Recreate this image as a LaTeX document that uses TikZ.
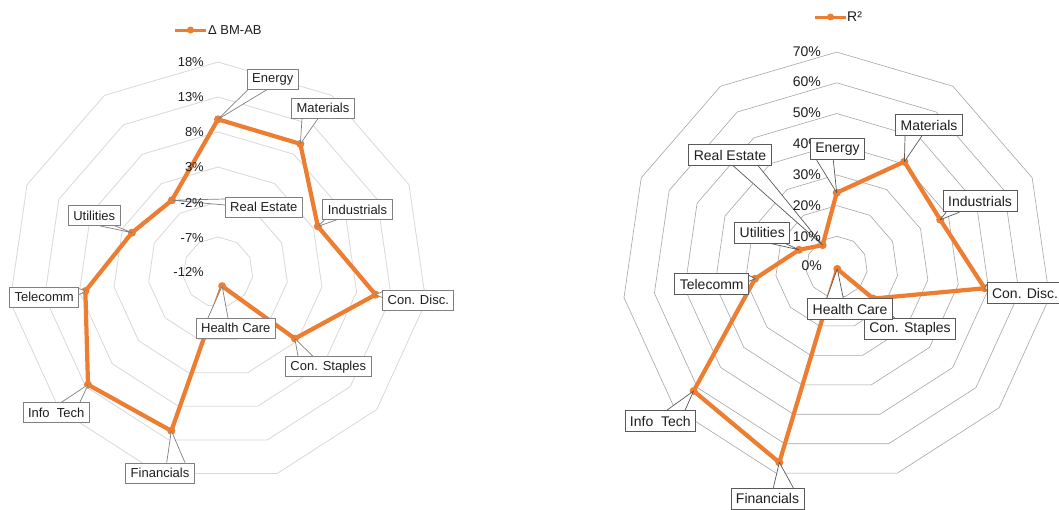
\documentclass[tikz,border=0pt]{standalone}
\usepackage{fontspec}
\setmainfont{Liberation Sans}
\usetikzlibrary{calc}
\pgfdeclarelayer{back}
\pgfdeclarelayer{bg}
\pgfdeclarelayer{mid}
\pgfsetlayers{back,bg,mid,main}
\definecolor{ser}{HTML}{ED7D31}
\definecolor{txt}{HTML}{1F1F1F}
\definecolor{ringl}{HTML}{D9D9D9}
\definecolor{ringr}{HTML}{A6A6A6}
\definecolor{boxl}{HTML}{808080}
\definecolor{boxr}{HTML}{595959}
\tikzset{
  ringL/.style={draw=ringl,line width=0.8pt,line join=round},
  ringR/.style={draw=ringr,line width=0.6pt,line join=round},
  series/.style={draw=ser,line width=4.2pt,line join=round},
  mk/.style={fill=ser},
  labL/.style={draw=boxl,fill=white,line width=0.8pt,text=txt,font=\fontsize{13}{15}\selectfont,minimum height=20pt,inner xsep=5pt,inner ysep=0pt},
  labR/.style={draw=boxr,fill=white,line width=0.8pt,text=txt,font=\fontsize{14}{16}\selectfont,minimum height=21pt,inner xsep=5pt,inner ysep=0pt},
  wedgeL/.style={draw=boxl,fill=white,line width=0.7pt,line join=round},
  wedgeR/.style={draw=boxr,fill=white,line width=0.7pt,line join=round},
  axL/.style={text=txt,font=\fontsize{13}{15}\selectfont,anchor=east,inner sep=0pt},
  axR/.style={text=txt,font=\fontsize{14}{16}\selectfont,anchor=east,inner sep=0pt},
  leg/.style={text=txt,anchor=west,inner sep=0pt},
}
\begin{document}
\begin{tikzpicture}[x=1pt,y=-1pt]
\useasboundingbox (0,0) rectangle (1059,509);
\begin{pgfonlayer}{back}
\fill[white] (0,0) rectangle (1059,509);
\end{pgfonlayer}
% ---------------- left chart ----------------
\coordinate (Lc) at (218,272);
\begin{pgfonlayer}{bg}
\foreach \r in {35,70,105,140,175,210}{
  \draw[ringL] ($(Lc)+(-90:\r)$) \foreach \k in {1,...,10}{ -- ($(Lc)+({-90+\k*360/11}:\r)$) } -- cycle;
}
\end{pgfonlayer}
\foreach \n/\k/\r in {LEn/0/152.7,LMa/1/152.3,LIn/2/109.8,LCD/3/159.2,LCS/4/101.7,LHC/5/14.7,LFi/6/165.6,LIT/7/172,LTe/8/134,LUt/9/94.6,LRE/10/85.3}{
  \coordinate (\n) at ($(Lc)+({-90+\k*360/11}:\r)$);
}
\begin{pgfonlayer}{bg}
\draw[series] (LEn) -- (LMa) -- (LIn) -- (LCD) -- (LCS) -- (LHC) -- (LFi) -- (LIT) -- (LTe) -- (LUt) -- (LRE) -- cycle;
\foreach \n in {LEn,LMa,LIn,LCD,LCS,LHC,LFi,LIT,LTe,LUt,LRE}{\fill[mk] (\n) circle (4);}
\end{pgfonlayer}
% axis labels
\node[axL] (aL1) at (204,62) {18\%};
\node[axL] (aL2) at (204,97) {13\%};
\node[axL] (aL3) at (204,132) {8\%};
\node[axL] (aL4) at (204,167) {3\%};
\node[axL] (aL5) at (204,203) {-2\%};
\node[axL] (aL6) at (204,238) {-7\%};
\node[axL] (aL7) at (204,272) {-12\%};
% legend
\coordinate (lgLa) at (175,30);
\coordinate (lgLb) at (206,30);
\draw[draw=ser,line width=3pt] (lgLa) -- (lgLb);
\fill[mk] ($(lgLa)!0.5!(lgLb)$) circle (3.5);
\node[leg,font=\fontsize{13}{15}\selectfont] (legL) at (208,30) {Δ BM-AB};
% label boxes
\node[labL] (bLEn) at (272.8,79.2) {Energy};
\node[labL] (bLMa) at (323,108.2) {Materials};
\node[labL] (bLIn) at (357.5,209.5) {Industrials};
\node[labL] (bLRE) at (263.8,207) {Real Estate};
\node[labL] (bLUt) at (94.2,215.5) {Utilities};
\node[labL] (bLTe) at (44.2,297) {Telecomm};
\node[labL] (bLCD) at (418.3,300) {Con. Disc.};
\node[labL] (bLHC) at (235.8,328.3) {Health Care};
\node[labL] (bLCS) at (328.3,366.7) {Con. Staples};
\node[labL] (bLIT) at (56.2,412.5) {Info\ \ Tech};
\node[labL] (bLFi) at (160,473) {Financials};
\begin{pgfonlayer}{mid}
\draw[wedgeL] ($(bLEn.south)+(-24.8,0)$) -- (LEn) -- ($(bLEn.south)+(-5.8,0)$);
\draw[wedgeL] ($(bLMa.south)+(-21,0)$) -- (LMa) -- ($(bLMa.south)+(-5,0)$);
\draw[wedgeL] ($(bLIn.south west)+(2,0)$) -- (LIn) -- ($(bLIn.south west)+(14,0)$);
\draw[wedgeL] ($(bLRE.west)+(0,-8)$) -- (LRE) -- ($(bLRE.west)+(0,-2)$);
\draw[wedgeL] ($(bLUt.south)+(6,0)$) -- (LUt) -- ($(bLUt.south)+(21,0)$);
\draw[wedgeL] ($(bLTe.north east)+(0,2)$) -- (LTe) -- ($(bLTe.north east)+(0,8)$);
\draw[wedgeL] ($(bLCD.north west)+(0,2)$) -- (LCD) -- ($(bLCD.north west)+(0,8)$);
\draw[wedgeL] ($(bLHC.north)+(-27.8,0)$) -- (LHC) -- ($(bLHC.north)+(-7.8,0)$);
\draw[wedgeL] ($(bLCS.north)+(-30.3,0)$) -- (LCS) -- ($(bLCS.north)+(-15.3,0)$);
\draw[wedgeL] ($(bLIT.north)+(5.5,0)$) -- (LIT) -- ($(bLIT.north)+(23.8,0)$);
\draw[wedgeL] ($(bLFi.north)+(6.7,0)$) -- (LFi) -- ($(bLFi.north)+(25,0)$);
\end{pgfonlayer}
% ---------------- right chart ----------------
\coordinate (Rc) at (836.7,267);
\begin{pgfonlayer}{bg}
\foreach \r in {30.7,61.4,92.1,122.8,153.5,184.2,214.9}{
  \draw[ringR] ($(Rc)+(-90:\r)$) \foreach \k in {1,...,10}{ -- ($(Rc)+({-90+\k*360/11}:\r)$) } -- cycle;
}
\end{pgfonlayer}
\foreach \n/\k/\r in {REn/0/74.3,RMa/1/125.2,RIn/2/113.8,RCD/3/149.5,RCS/4/48.2,RHC/5/2,RFi/6/203.7,RIT/7/189.3,RTe/8/82.5,RUt/9/41.4,RRE/10/26}{
  \coordinate (\n) at ($(Rc)+({-90+\k*360/11}:\r)$);
}
\begin{pgfonlayer}{bg}
\draw[series] (REn) -- (RMa) -- (RIn) -- (RCD) -- (RCS) -- (RHC) -- (RFi) -- (RIT) -- (RTe) -- (RUt) -- (RRE) -- cycle;
\foreach \n in {REn,RMa,RIn,RCD,RCS,RHC,RFi,RIT,RTe,RUt,RRE}{\fill[mk] (\n) circle (4);}
\end{pgfonlayer}
\node[axR] (aR1) at (821,52) {70\%};
\node[axR] (aR2) at (821,82) {60\%};
\node[axR] (aR3) at (821,113) {50\%};
\node[axR] (aR4) at (821,144) {40\%};
\node[axR] (aR5) at (821,175) {30\%};
\node[axR] (aR6) at (821,206) {20\%};
\node[axR] (aR7) at (821,237) {10\%};
\node[axR] (aR8) at (822,266) {0\%};
% legend
\coordinate (lgRa) at (815,17);
\coordinate (lgRb) at (846,17);
\draw[draw=ser,line width=3pt] (lgRa) -- (lgRb);
\fill[mk] ($(lgRa)!0.5!(lgRb)$) circle (3.5);
\node[leg,font=\fontsize{14}{16}\selectfont] (legR) at (847,17) {R²};
% label boxes
\node[labR] (bRMa) at (929,125.3) {Materials};
\node[labR] (bREn) at (837.5,149.3) {Energy};
\node[labR] (bRRE) at (730,155) {Real Estate};
\node[labR] (bRIn) at (980,201.3) {Industrials};
\node[labR] (bRUt) at (762.2,232.5) {Utilities};
\node[labR] (bRTe) at (711.7,284.2) {Telecomm};
\node[labR] (bRCS) at (910,329.2) {Con. Staples};
\node[labR] (bRHC) at (850,309.2) {Health Care};
\node[labR] (bRCD) at (1025,293.3) {Con. Disc.};
\node[labR] (bRIT) at (660.3,421.2) {Info\ \ Tech};
\node[labR] (bRFi) at (767.5,498.7) {Financials};
\begin{pgfonlayer}{mid}
\draw[wedgeR] ($(bRMa.south)+(-24,0)$) -- (RMa) -- ($(bRMa.south)+(-7.3,0)$);
\draw[wedgeR] ($(bREn.south)+(-20.8,0)$) -- (REn) -- ($(bREn.south)+(-4.2,0)$);
\draw[wedgeR] ($(bRRE.south)+(3.3,0)$) -- (RRE) -- ($(bRRE.south)+(28.3,0)$);
\draw[wedgeR] ($(bRIn.south west)+(3.4,0)$) -- (RIn) -- ($(bRIn.south west)+(16.7,0)$);
\draw[wedgeR] ($(bRUt.south)+(8,0)$) -- (RUt) -- ($(bRUt.south)+(23,0)$);
\draw[wedgeR] ($(bRTe.north east)+(0,2)$) -- (RTe) -- ($(bRTe.north east)+(0,8)$);
\draw[wedgeR] ($(bRHC.north)+(-23.3,0)$) -- (RHC) -- ($(bRHC.north)+(-6.7,0)$);
\draw[wedgeR] ($(bRCS.north)+(-32,0)$) -- (RCS) -- ($(bRCS.north)+(-15,0)$);
\draw[wedgeR] ($(bRCD.north west)+(0,2)$) -- (RCD) -- ($(bRCD.north west)+(0,8)$);
\draw[wedgeR] ($(bRIT.north)+(6.4,0)$) -- (RIT) -- ($(bRIT.north)+(24.7,0)$);
\draw[wedgeR] ($(bRFi.north)+(5.8,0)$) -- (RFi) -- ($(bRFi.north)+(25.8,0)$);
\end{pgfonlayer}
\end{tikzpicture}
\end{document}
